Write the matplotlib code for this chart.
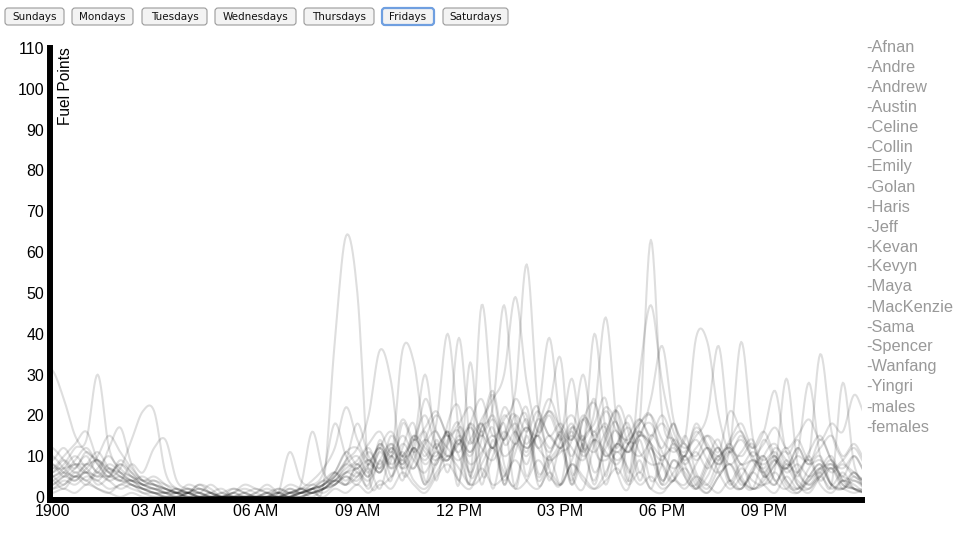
import numpy as np
import matplotlib
matplotlib.use("Agg")
import matplotlib.pyplot as plt
from matplotlib.patches import FancyBboxPatch

# 20-minute samples over the day (index / 3 = hour)
hours = np.arange(73) / 3.0

afnan = [31, 24, 15, 11, 9, 6, 4, 3, 2, 2, 1, 1, 2, 1, 0, 1, 2, 1,
         0, 1, 1, 2, 1, 2, 3, 5, 8, 6, 3, 14, 5, 12, 18, 4, 8, 13,
         16, 4, 47, 20, 3, 14, 22, 6, 10, 15, 3, 12, 24, 5, 22, 16, 4, 12,
         3, 14, 8, 2, 7, 12, 4, 8, 2, 5, 9, 3, 2, 7, 10, 3, 2, 6, 2]
andre = [6, 8, 12, 14, 30, 12, 7, 5, 3, 2, 2, 1, 3, 2, 1, 0, 1, 0,
         1, 2, 1, 1, 0, 2, 4, 6, 3, 8, 5, 12, 16, 10, 7, 14, 20, 15,
         11, 18, 24, 15, 19, 26, 57, 22, 12, 16, 10, 19, 23, 14, 9, 13, 18, 20,
         8, 4, 15, 6, 3, 9, 12, 5, 2, 4, 8, 11, 3, 2, 6, 9, 4, 2, 2]
andrew = [2, 3, 5, 4, 2, 1, 3, 2, 1, 0, 0, 0, 0, 0, 0, 0, 0, 0,
          0, 0, 0, 0, 1, 2, 3, 38, 64, 50, 6, 3, 5, 9, 4, 2, 6, 10,
          7, 3, 5, 12, 6, 2, 4, 9, 5, 3, 8, 4, 2, 6, 11, 7, 3, 5,
          2, 4, 7, 3, 1, 5, 8, 4, 2, 3, 6, 2, 1, 4, 7, 3, 2, 1, 2]
austin = [10, 7, 5, 8, 6, 4, 5, 3, 2, 1, 1, 2, 1, 3, 1, 0, 0, 1,
          0, 0, 2, 1, 1, 3, 2, 5, 9, 12, 20, 36, 28, 6, 9, 16, 4, 18,
          22, 5, 10, 17, 3, 13, 8, 15, 4, 12, 3, 14, 18, 24, 6, 13, 18, 63,
          20, 14, 10, 18, 12, 8, 13, 16, 10, 7, 12, 9, 6, 11, 15, 9, 7, 10, 6]
celine = [4, 6, 9, 12, 8, 5, 7, 14, 21, 21, 6, 2, 1, 0, 1, 2, 0, 0,
          1, 3, 1, 0, 0, 1, 2, 4, 3, 5, 9, 6, 12, 8, 15, 10, 18, 40,
          16, 6, 14, 25, 8, 3, 16, 22, 7, 3, 17, 12, 4, 15, 21, 6, 14, 4,
          8, 18, 5, 3, 9, 14, 4, 2, 7, 10, 4, 2, 6, 9, 3, 1, 4, 2, 1]
collin = [8, 5, 7, 10, 6, 12, 17, 8, 4, 3, 2, 1, 1, 0, 0, 0, 0, 0,
          0, 1, 0, 1, 2, 1, 3, 6, 4, 7, 2, 9, 4, 18, 11, 3, 9, 13,
          39, 14, 18, 12, 20, 15, 10, 17, 24, 16, 4, 19, 14, 3, 13, 18, 6, 15,
          12, 18, 14, 39, 38, 20, 11, 15, 9, 6, 10, 4, 2, 5, 8, 3, 2, 4, 2]
emily = [3, 5, 4, 7, 9, 6, 4, 8, 6, 12, 14, 4, 2, 1, 3, 1, 0, 0,
         0, 1, 2, 1, 2, 1, 2, 3, 5, 4, 8, 12, 7, 10, 14, 20, 12, 9,
         15, 11, 17, 22, 47, 18, 12, 16, 21, 14, 5, 2, 13, 17, 6, 2, 15, 18,
         11, 7, 10, 14, 9, 6, 12, 38, 15, 5, 9, 4, 1, 5, 8, 3, 6, 2, 1]
golan = [7, 10, 13, 16, 9, 6, 8, 5, 3, 2, 1, 2, 1, 0, 0, 1, 0, 0,
         0, 0, 0, 1, 3, 16, 6, 4, 8, 10, 6, 13, 9, 36, 33, 14, 10, 16,
         4, 18, 3, 14, 5, 16, 20, 3, 8, 12, 17, 14, 21, 44, 18, 11, 15, 13,
         4, 9, 5, 2, 8, 12, 4, 2, 6, 10, 4, 7, 3, 1, 5, 8, 3, 2, 1]
haris = [5, 3, 6, 4, 7, 10, 6, 4, 2, 1, 1, 0, 1, 2, 1, 0, 1, 3,
         2, 1, 0, 2, 1, 2, 1, 3, 5, 3, 7, 2, 10, 4, 12, 3, 14, 6,
         17, 13, 19, 24, 30, 49, 28, 16, 20, 14, 18, 12, 40, 16, 11, 15, 19, 13,
         4, 9, 6, 2, 5, 10, 3, 7, 4, 3, 7, 29, 8, 3, 5, 2, 4, 3, 1]
jeff = [9, 12, 8, 6, 10, 15, 11, 7, 4, 3, 2, 1, 0, 1, 0, 0, 0, 0,
        0, 0, 1, 0, 1, 2, 4, 3, 6, 8, 5, 11, 7, 13, 9, 6, 12, 15,
        10, 3, 8, 12, 4, 11, 19, 5, 10, 3, 9, 15, 6, 12, 16, 4, 30, 47,
        28, 16, 12, 15, 20, 37, 14, 10, 13, 5, 8, 12, 6, 3, 7, 10, 4, 6, 3]
kevan = [2, 4, 3, 5, 4, 2, 3, 4, 2, 1, 0, 1, 0, 0, 0, 0, 1, 0,
         0, 0, 1, 11, 4, 3, 6, 18, 10, 7, 11, 8, 13, 10, 15, 12, 9, 14,
         18, 5, 16, 2, 15, 20, 5, 17, 22, 34, 6, 13, 3, 14, 18, 4, 9, 2,
         10, 5, 3, 8, 12, 6, 2, 5, 9, 6, 3, 8, 4, 2, 5, 7, 3, 2, 1]
kevyn = [4, 2, 5, 3, 6, 4, 2, 3, 1, 1, 0, 0, 1, 2, 1, 0, 0, 1,
         2, 1, 0, 1, 2, 4, 7, 12, 22, 14, 9, 12, 8, 11, 7, 13, 16, 10,
         13, 17, 12, 9, 14, 18, 13, 20, 39, 18, 12, 9, 14, 11, 8, 13, 16, 10,
         3, 6, 10, 4, 1, 5, 8, 3, 6, 14, 9, 7, 12, 10, 35, 16, 9, 6, 4]
maya = [6, 9, 7, 11, 8, 5, 9, 6, 3, 4, 2, 1, 0, 0, 1, 0, 0, 0,
        0, 0, 0, 0, 1, 2, 3, 5, 9, 18, 10, 7, 12, 9, 14, 11, 8, 16,
        3, 33, 6, 10, 18, 2, 15, 4, 9, 14, 29, 12, 16, 10, 13, 17, 11, 8,
        8, 4, 10, 5, 2, 7, 11, 4, 2, 10, 13, 8, 11, 28, 10, 7, 9, 12, 8]
mackenzie = [12, 9, 6, 8, 11, 7, 5, 4, 3, 2, 1, 1, 2, 1, 0, 0, 2, 1,
             0, 0, 1, 3, 2, 1, 2, 4, 7, 9, 13, 16, 11, 19, 14, 17, 21, 15,
             18, 22, 16, 20, 14, 24, 18, 15, 21, 17, 14, 20, 16, 22, 18, 13, 19, 15,
             20, 14, 11, 17, 13, 9, 14, 18, 12, 16, 26, 11, 14, 9, 12, 15, 10, 13, 9]
sama = [1, 2, 1, 3, 2, 1, 0, 1, 0, 0, 0, 0, 0, 0, 0, 0, 0, 0,
        0, 0, 0, 0, 0, 1, 0, 2, 1, 3, 1, 4, 2, 6, 3, 1, 5, 8,
        4, 2, 7, 3, 5, 9, 4, 2, 6, 3, 8, 5, 2, 4, 7, 3, 6, 2,
        1, 4, 2, 5, 3, 1, 4, 2, 6, 3, 1, 5, 2, 4, 6, 3, 28, 8, 4]
spencer = [3, 5, 8, 6, 4, 7, 5, 3, 2, 1, 0, 0, 1, 3, 2, 0, 1, 2,
           1, 0, 1, 0, 2, 2, 3, 6, 11, 8, 12, 7, 15, 10, 13, 30, 12, 9,
           14, 10, 17, 26, 13, 16, 11, 19, 15, 12, 16, 10, 14, 18, 12, 20, 15, 24,
           37, 19, 13, 10, 15, 12, 8, 11, 14, 6, 3, 9, 5, 10, 4, 7, 2, 5, 2]
wanfang = [5, 7, 10, 7, 5, 8, 6, 4, 5, 3, 1, 0, 1, 0, 0, 0, 0, 0,
           0, 0, 0, 0, 0, 1, 2, 3, 6, 5, 8, 6, 10, 7, 12, 8, 11, 9,
           13, 8, 11, 15, 10, 13, 17, 12, 9, 11, 14, 30, 12, 9, 13, 11, 16, 12,
           9, 13, 10, 16, 12, 8, 11, 14, 10, 13, 17, 12, 15, 19, 14, 18, 16, 25, 20]
yingri = [8, 6, 4, 6, 3, 5, 8, 6, 4, 5, 3, 1, 0, 0, 0, 0, 0, 0,
          0, 0, 0, 0, 1, 0, 2, 4, 3, 6, 4, 9, 13, 7, 11, 24, 16, 12,
          9, 14, 18, 12, 22, 16, 12, 15, 11, 16, 20, 14, 11, 16, 21, 13, 10, 14,
          18, 13, 9, 12, 15, 11, 21, 16, 12, 16, 10, 7, 12, 8, 14, 9, 5, 10, 6]
males = [7, 7, 8, 8, 9, 7, 6, 5, 4, 4, 3, 2, 1, 1, 0, 0, 0, 0,
         0, 0, 0, 1, 1, 2, 3, 6, 11, 12, 8, 13, 10, 15, 11, 14, 12, 16,
         13, 18, 15, 19, 14, 20, 16, 21, 15, 18, 14, 19, 15, 21, 16, 14, 18, 20,
         14, 11, 13, 9, 12, 10, 13, 8, 11, 9, 11, 7, 10, 8, 9, 6, 8, 5, 4]
females = [5, 6, 5, 6, 5, 5, 4, 4, 3, 3, 2, 1, 1, 0, 0, 0, 0, 0,
           0, 0, 0, 0, 1, 1, 2, 4, 6, 7, 9, 6, 11, 8, 12, 9, 13, 10,
           14, 11, 15, 12, 16, 13, 17, 12, 15, 12, 15, 11, 14, 10, 13, 11, 15, 13,
           10, 12, 8, 11, 7, 10, 12, 8, 9, 8, 10, 6, 8, 5, 7, 8, 5, 4, 3]

names = ["Afnan", "Andre", "Andrew", "Austin", "Celine", "Collin", "Emily",
         "Golan", "Haris", "Jeff", "Kevan", "Kevyn", "Maya", "MacKenzie",
         "Sama", "Spencer", "Wanfang", "Yingri", "males", "females"]
series = [afnan, andre, andrew, austin, celine, collin, emily, golan, haris,
          jeff, kevan, kevyn, maya, mackenzie, sama, spencer, wanfang, yingri,
          males, females]

tick_hours = [0, 3, 6, 9, 12, 15, 18, 21]
tick_labels = ["1900", "03 AM", "06 AM", "09 AM", "12 PM", "03 PM", "06 PM", "09 PM"]
days = ["Sundays", "Mondays", "Tuesdays", "Wednesdays", "Thursdays", "Fridays", "Saturdays"]


def smooth(t, v, n=10):
    # cardinal (catmull-rom) curve through the points
    v = np.asarray(v, dtype=float)
    p = np.concatenate([[v[0]], v, [v[-1]]])
    u = np.linspace(0, 1, n, endpoint=False)
    xs, ys = [], []
    for i in range(len(v) - 1):
        p0, p1, p2, p3 = p[i], p[i + 1], p[i + 2], p[i + 3]
        y = 0.5 * (2 * p1 + (-p0 + p2) * u + (2 * p0 - 5 * p1 + 4 * p2 - p3) * u ** 2
                   + (-p0 + 3 * p1 - 3 * p2 + p3) * u ** 3)
        xs.append(t[i] + (t[i + 1] - t[i]) * u)
        ys.append(y)
    xs.append([t[-1]])
    ys.append([v[-1]])
    return np.concatenate(xs), np.concatenate(ys)


W, H = 970, 545
fig = plt.figure(figsize=(W / 100, H / 100), dpi=100)
plt.rcParams['font.family'] = ['Liberation Sans', 'DejaVu Sans']

# plot box in pixels: left 50.5, right 862, top 48, bottom 500
ax = fig.add_axes([50.5 / W, (H - 500) / H, (862 - 50.5) / W, (500 - 48) / H])
for s in series:
    xs, ys = smooth(hours, s)
    ax.plot(xs, ys, color='black', alpha=0.13, lw=1.5, solid_capstyle='round')

ax.set_xlim(-0.06, 23.9)
ax.set_ylim(-0.75, 110)
ax.set_yticks(range(0, 111, 10))
ax.set_xticks(tick_hours)
ax.set_xticklabels(tick_labels)
ax.tick_params(length=0, labelsize=11.5, colors='black')
ax.tick_params(axis='y', pad=4.5)
ax.tick_params(axis='x', pad=3)
for side in ['top', 'right']:
    ax.spines[side].set_visible(False)
for side in ['left', 'bottom']:
    ax.spines[side].set_linewidth(4.3)
    ax.spines[side].set_color('black')
    ax.spines[side].set_capstyle('projecting')

# overlay in pixel coordinates for the page furniture
ov = fig.add_axes([0, 0, 1, 1])
ov.set_xlim(0, W)
ov.set_ylim(H, 0)
ov.axis('off')
ov.patch.set_alpha(0)

ov.text(66, 47, "Fuel Points", rotation=90, ha='center', va='top', fontsize=11.2)

for k, name in enumerate(names):
    ov.text(866, 47 + 20 * k, "-" + name, ha='left', va='center',
            fontsize=11.8, color='#999999')

btn_x = [(5, 64), (72, 133), (142, 207), (215, 296), (304, 374), (382, 434), (443, 508)]
for d, (x0, x1) in zip(days, btn_x):
    active = d == "Fridays"
    box = FancyBboxPatch((x0, 8), x1 - x0, 17,
                         boxstyle="round,pad=0,rounding_size=3",
                         facecolor='#f3f3f3',
                         edgecolor='#6f9fe0' if active else '#9a9a9a',
                         lw=1.6 if active else 0.8)
    ov.add_patch(box)
    ov.text((x0 + x1) / 2, 16.8, d, ha='center', va='center', fontsize=7.5,
            family=['DejaVu Sans'], color='#111111')

fig.savefig("out.png", dpi=100)
